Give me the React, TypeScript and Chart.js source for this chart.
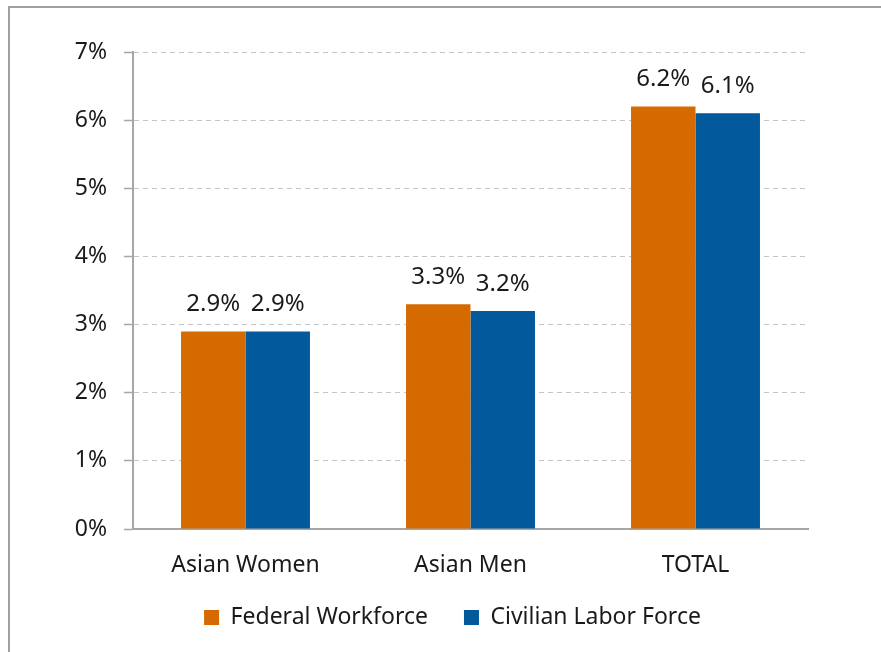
import React, { useEffect, useRef } from "react";
import { Chart, registerables } from "chart.js";

Chart.register(...registerables);

const categories = ["Asian Women", "Asian Men", "TOTAL"];
const federalWorkforce = [2.9, 3.3, 6.2];
const civilianLaborForce = [2.9, 3.2, 6.1];
const seriesNames = ["Federal Workforce", "Civilian Labor Force"];
const yTicks = [0, 1, 2, 3, 4, 5, 6, 7];

const FONT = "'Noto Sans', sans-serif";
const ORANGE = "#D46A00";
const BLUE = "#02599B";

const dataLabelPlugin = {
  id: "dataLabels",
  afterLayout(chart: any) {
    const lg = chart.legend;
    if (lg) {
      lg.left = 15;
      lg.right = 870;
      lg.top -= 25;
      lg.bottom -= 25;
    }
  },
  afterDatasetsDraw(chart: any) {
    const ctx = chart.ctx;
    ctx.save();
    ctx.font = `24px ${FONT}`;
    ctx.fillStyle = "#1a1a1a";
    ctx.textAlign = "center";
    ctx.textBaseline = "middle";
    chart.data.datasets.forEach((ds: any, di: number) => {
      const meta = chart.getDatasetMeta(di);
      meta.data.forEach((bar: any, i: number) => {
        ctx.fillText(ds.data[i].toFixed(1) + "%", bar.x, bar.y - 27);
      });
    });
    ctx.restore();
  },
};

export default function App() {
  const ref = useRef<HTMLCanvasElement>(null);
  useEffect(() => {
    if (!ref.current) return;
    const chart = new Chart(ref.current, {
      type: "bar",
      data: {
        labels: categories,
        datasets: [
          { label: seriesNames[0], data: federalWorkforce, backgroundColor: ORANGE, borderWidth: 0 },
          { label: seriesNames[1], data: civilianLaborForce, backgroundColor: BLUE, borderWidth: 0 },
        ],
      },
      options: {
        animation: false,
        responsive: false,
        layout: { padding: { left: 0, right: 73, top: 44, bottom: -12 } },
        datasets: { bar: { barPercentage: 1, categoryPercentage: 0.573 } },
        plugins: {
          legend: {
            position: "bottom",
            labels: {
              boxWidth: 15,
              boxHeight: 15,
              padding: 36,
              color: "#1a1a1a",
              font: { family: FONT, size: 23 },
            },
          },
          tooltip: { enabled: false },
        },
        scales: {
          x: {
            grid: { display: false, drawTicks: false },
            border: { display: true, color: "#a6a6a6", width: 2 },
            ticks: { color: "#1a1a1a", font: { family: FONT, size: 23 }, padding: 23 },
            afterFit: (s: any) => {
              s.height = 66;
            },
          },
          y: {
            min: 0,
            max: 7,
            afterBuildTicks: (s: any) => {
              s.ticks = yTicks.map((v) => ({ value: v }));
            },
            grid: {
              color: "#c4c4c4",
              lineWidth: 1,
              tickLength: 9,
              tickColor: "#a6a6a6",
              tickWidth: 1.5,
              tickBorderDash: [],
            },
            border: { display: true, color: "#a6a6a6", width: 2, dash: [5, 4] },
            ticks: {
              color: "#1a1a1a",
              font: { family: FONT, size: 23 },
              padding: 17,
              callback: (v: any) => v + "%",
            },
            afterFit: (s: any) => {
              s.width = 123;
            },
          },
        },
      },
      plugins: [dataLabelPlugin],
    });
    return () => chart.destroy();
  }, []);

  return (
    <div
      style={{
        position: "absolute",
        left: 8,
        top: 6,
        width: 873,
        height: 646,
        boxSizing: "border-box",
        borderLeft: "2px solid #a0a0a0",
        borderTop: "2px solid #a0a0a0",
        background: "#fff",
        overflow: "hidden",
      }}
    >
      <canvas ref={ref} width={871} height={644} style={{ display: "block", width: 871, height: 644 }} />
    </div>
  );
}
